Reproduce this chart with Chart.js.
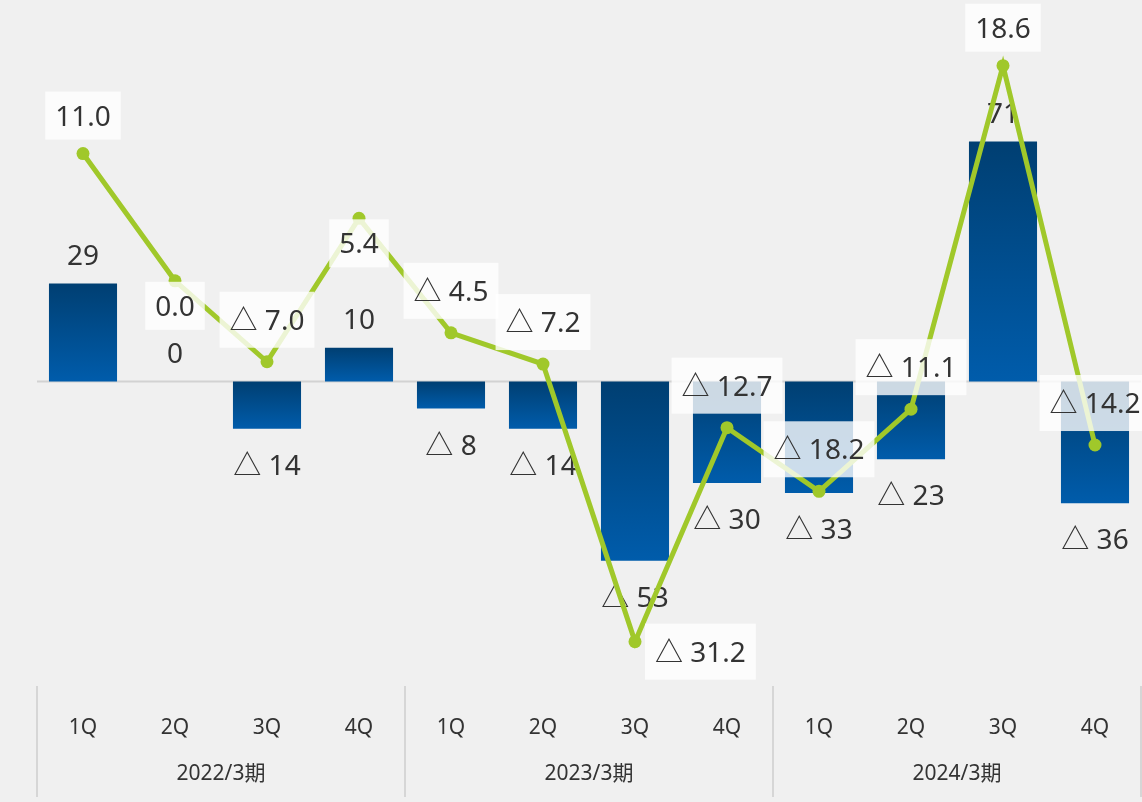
<!DOCTYPE html>
<html>
<head>
<meta charset="utf-8">
<script src="https://cdn.jsdelivr.net/npm/chart.js@4/dist/chart.umd.min.js"></script>
<style>
  html, body { margin: 0; padding: 0; background: #f0f0f0; overflow: hidden; }
  #wrap { width: 1142px; height: 802px; }
  canvas { display: block; }
</style>
</head>
<body>
<div id="wrap"><canvas id="chart" width="1142" height="802"></canvas></div>
<script>
// data
const quarters = ["1Q", "2Q", "3Q", "4Q", "1Q", "2Q", "3Q", "4Q", "1Q", "2Q", "3Q", "4Q"];
const years = ["2022/3期", "2023/3期", "2024/3期"];
const barValues = [29, 0, -14, 10, -8, -14, -53, -30, -33, -23, 71, -36];
const lineValues = [11.0, 0.0, -7.0, 5.4, -4.5, -7.2, -31.2, -12.7, -18.2, -11.1, 18.6, -14.2];
// where each line label sits relative to its point
const linePlace = ["above", "below", "above", "below", "above", "above", "right", "above", "above", "above", "above", "above"];

const FONT = "'Noto Sans', 'Noto Sans CJK JP', sans-serif";
const TEXT = "#333333";
const GREEN = "#a0c82a";

const fmtBar = v => v < 0 ? "△ " + Math.abs(v) : String(v);
const fmtLine = v => v < 0 ? "△ " + Math.abs(v).toFixed(1) : v.toFixed(1);

function barFill(ctx) {
  const chart = ctx.chart;
  if (!chart.chartArea || ctx.raw === undefined) return "#004f8f";
  const y = chart.scales.y;
  const top = y.getPixelForValue(Math.max(ctx.raw, 0));
  const bot = y.getPixelForValue(Math.min(ctx.raw, 0));
  if (bot - top < 1) return "#004f8f";
  const g = chart.ctx.createLinearGradient(0, top, 0, bot);
  g.addColorStop(0, "#003f72");
  g.addColorStop(1, "#005cab");
  return g;
}

const labelsPlugin = {
  id: "labels",
  beforeDatasetsDraw(chart) {
    const { ctx, chartArea } = chart;
    const y0 = chart.scales.y.getPixelForValue(0);
    ctx.save();
    ctx.strokeStyle = "#d2d2d2";
    ctx.lineWidth = 2;
    ctx.beginPath();
    ctx.moveTo(chartArea.left, y0);
    ctx.lineTo(chartArea.right, y0);
    ctx.stroke();
    ctx.restore();
  },
  afterDatasetDraw(chart, args) {
    const { ctx } = chart;
    const meta = args.meta;
    ctx.save();
    ctx.font = "28px " + FONT;
    ctx.textAlign = "center";
    ctx.textBaseline = "alphabetic";
    if (meta.type === "bar") {
      const y = chart.scales.y;
      const y0 = y.getPixelForValue(0);
      ctx.fillStyle = TEXT;
      meta.data.forEach((el, i) => {
        const v = barValues[i];
        if (v >= 0) {
          ctx.fillText(fmtBar(v), el.x, Math.min(el.y, y0) - 19);
        } else {
          ctx.fillText(fmtBar(v), el.x, Math.max(el.y, y0) + 46);
        }
      });
    } else if (meta.type === "line") {
      meta.data.forEach((el, i) => {
        const txt = fmtLine(lineValues[i]);
        const w = ctx.measureText(txt).width + 20;
        const h = txt.includes("△") ? 56 : 48;
        let cx = el.x, cy;
        if (linePlace[i] === "above") cy = el.y - 14 - h / 2;
        else if (linePlace[i] === "below") cy = el.y + 25;
        else { cx = el.x + 10 + w / 2; cy = el.y + 10; }
        ctx.fillStyle = "rgba(255,255,255,0.8)";
        ctx.fillRect(cx - w / 2, cy - h / 2, w, h);
        ctx.fillStyle = TEXT;
        ctx.fillText(txt, cx, cy + 10);
      });
    }
    ctx.restore();
  },
  afterDraw(chart) {
    const { ctx } = chart;
    const x = chart.scales.x;
    ctx.save();
    ctx.strokeStyle = "#d6d6d6";
    ctx.lineWidth = 2;
    for (let g = 0; g <= years.length; g++) {
      const px = Math.min(Math.round(x.getPixelForValue(g * 4 - 0.5)), chart.width - 1);
      ctx.beginPath();
      ctx.moveTo(px, 686);
      ctx.lineTo(px, 797);
      ctx.stroke();
    }
    ctx.font = "21px " + FONT;
    ctx.fillStyle = TEXT;
    ctx.textAlign = "center";
    ctx.textBaseline = "middle";
    years.forEach((yr, g) => {
      const cx = (x.getPixelForValue(g * 4) + x.getPixelForValue(g * 4 + 3)) / 2;
      ctx.fillText(yr, cx, 774);
    });
    ctx.restore();
  }
};

new Chart(document.getElementById("chart"), {
  data: {
    labels: quarters,
    datasets: [
      {
        type: "line",
        data: lineValues,
        yAxisID: "y2",
        order: 0,
        borderColor: GREEN,
        backgroundColor: GREEN,
        borderWidth: 5,
        pointRadius: 6.5,
        pointBackgroundColor: GREEN,
        pointBorderWidth: 0,
        tension: 0,
        clip: false
      },
      {
        type: "bar",
        data: barValues,
        yAxisID: "y",
        order: 1,
        backgroundColor: barFill,
        categoryPercentage: 1,
        barPercentage: 0.74
      }
    ]
  },
  options: {
    responsive: false,
    animation: false,
    layout: { autoPadding: false, padding: { left: 37, right: 1, top: 0, bottom: 0 } },
    plugins: { legend: { display: false }, tooltip: { enabled: false } },
    scales: {
      x: {
        grid: { display: false, drawTicks: false },
        border: { display: false },
        ticks: { color: TEXT, font: { size: 21, family: FONT }, padding: 30, maxRotation: 0 },
        afterFit(scale) {
          scale.height = 117;
          scale.paddingLeft = 0;
          scale.paddingRight = 0;
        }
      },
      y: { display: false, min: -89.8, max: 112.9 },
      y2: { display: false, min: -34.95, max: 24.28 }
    }
  },
  plugins: [labelsPlugin]
});
</script>
</body>
</html>
